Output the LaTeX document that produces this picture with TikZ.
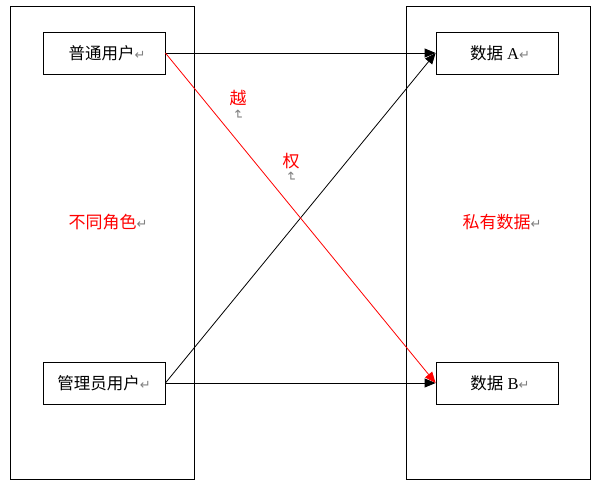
\documentclass[tikz,border=0pt]{standalone}
\usepackage{fontspec}
\setmainfont{Liberation Serif}
\newfontfamily\cjk{Noto Sans CJK SC}
\newfontfamily\symf{DejaVu Sans}
\usetikzlibrary{arrows.meta}
\newcommand{\pmark}{{\color{gray}\symf\fontsize{13}{13}\selectfont ↵}}
\begin{document}
\begin{tikzpicture}
  [x=1pt,y=-1pt,line width=.8pt,every node/.style={inner sep=0pt},
   frame/.style={draw,minimum width=184pt,minimum height=473pt},
   box/.style={draw,minimum width=122pt,minimum height=42pt,font=\fontsize{16.5}{18}\selectfont},
   lab/.style={text=red,font=\fontsize{17}{18}\selectfont\cjk},
   tip/.style={-{Triangle[length=11pt,width=9pt]}}]
  \useasboundingbox (0,0) rectangle (600,487);
  \node[frame] (g1) at (102,243) {};
  \node[frame] (g2) at (498,243) {};
  \node[box] (n1) at (104,53)  {\hspace{6pt}{\cjk 普通用户}\pmark};
  \node[box] (n2) at (104,383) {{\cjk 管理员用户}\pmark};
  \node[box] (n3) at (497,53)  {\hspace{6pt}{\cjk 数据} A\pmark};
  \node[box] (n4) at (497,383) {\hspace{6pt}{\cjk 数据} B\pmark};
  \node[lab] (l1) at (108,222) {不同角色\pmark};
  \node[lab] (l2) at (502,222) {私有数据\pmark};
  \node[lab] (l3) at (238,98)  {越};
  \node[lab] (l4) at (291,161) {权};
  \node[rotate=-90] (m3) at (238,115) {\pmark};
  \node[rotate=-90] (m4) at (291,177) {\pmark};
  \foreach \from/\to in {n1/n3,n2/n3,n2/n4}
    \draw[tip] (\from.east) -- (\to.west);
  \draw[tip,red] (n1.east) -- (n4.west);
\end{tikzpicture}
\end{document}
